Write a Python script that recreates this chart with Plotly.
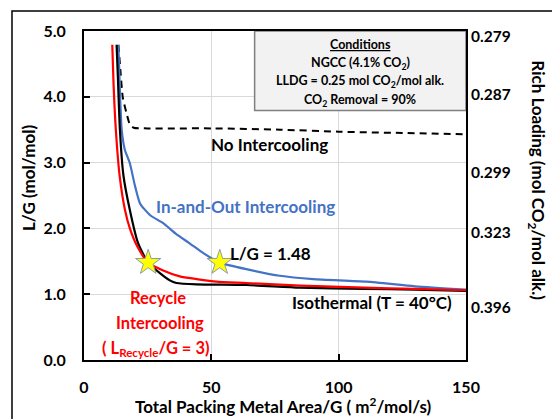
import plotly.graph_objects as go

# ---- data -------------------------------------------------------------
# Isothermal (T = 40 °C)
iso_x = [12.8, 13.3, 14.1, 15.5, 18.0, 21.2, 25.2, 29.8, 33.7, 36.3, 44.2, 63.8, 84.7, 110, 130, 150]
iso_y = [4.79, 4.30, 3.50, 2.80, 2.28, 1.78, 1.48, 1.32, 1.21, 1.17, 1.15, 1.14, 1.10, 1.08, 1.07, 1.05]

# Recycle intercooling (L_Recycle/G = 3)
rec_x = [11.1, 11.6, 12.5, 14.0, 16.1, 18.0, 21.0, 25.2, 31.1, 37.6, 44.2, 52.0, 63.8, 85, 110, 130, 150]
rec_y = [4.79, 4.20, 3.50, 2.80, 2.28, 2.00, 1.72, 1.48, 1.36, 1.27, 1.23, 1.19, 1.17, 1.13, 1.10, 1.08, 1.06]

# In-and-out intercooling
io_x = [13.5, 14.0, 14.8, 16.0, 18.0, 20.0, 22.0, 26.0, 31.1, 36.0, 41.6, 47.0, 53.3, 65.1, 76.9, 90, 110.9, 130, 150]
io_y = [4.79, 4.20, 3.50, 3.20, 2.99, 2.65, 2.38, 2.20, 2.08, 1.92, 1.77, 1.62, 1.48, 1.37, 1.28, 1.23, 1.19, 1.12, 1.07]

# No intercooling
no_x = [13.5, 14.3, 15.2, 16.7, 18.0, 19.5, 25, 50, 77, 100, 125, 150]
no_y = [4.79, 4.40, 4.00, 3.75, 3.58, 3.53, 3.52, 3.52, 3.50, 3.47, 3.45, 3.43]

# Design points
star_x = [25.2, 53.3]
star_y = [1.48, 1.48]

# Axis ticks
lg_ticks = [0, 1, 2, 3, 4, 5]
area_ticks = [0, 50, 100, 150]
rich_pos = [4.92, 4.03, 2.85, 1.93, 0.79]
rich_labels = ["0.279", "0.287", "0.299", "0.323", "0.396"]

FONT = "Lato"
BLUE = "#4472C4"
RED = "#FF0000"

fig = go.Figure()

fig.add_trace(go.Scatter(x=no_x, y=no_y, mode="lines",
                         line=dict(color="black", width=2, dash="7px,5px", shape="spline", smoothing=0.6)))
fig.add_trace(go.Scatter(x=io_x, y=io_y, mode="lines",
                         line=dict(color=BLUE, width=2.2, shape="spline", smoothing=0.6)))
fig.add_trace(go.Scatter(x=iso_x, y=iso_y, mode="lines",
                         line=dict(color="black", width=2.2, shape="spline", smoothing=0.6)))
fig.add_trace(go.Scatter(x=rec_x, y=rec_y, mode="lines",
                         line=dict(color=RED, width=2.2, shape="spline", smoothing=0.6)))
fig.add_trace(go.Scatter(x=star_x, y=star_y, mode="markers",
                         marker=dict(symbol="star", size=19, color="#FFFF00",
                                     line=dict(color="#8a9bb0", width=1))))
# carrier for the right-hand axis
fig.add_trace(go.Scatter(x=[0], y=[0], yaxis="y2", mode="markers",
                         marker=dict(opacity=0), hoverinfo="skip"))

axis_common = dict(showline=True, linecolor="black", linewidth=2, mirror=True,
                   ticks="inside", tickcolor="black", tickwidth=1.5, ticklen=6,
                   showgrid=True, gridcolor="#d9d9d9", gridwidth=1, zeroline=False,
                   tickfont=dict(family=FONT, size=16, color="black"))

fig.update_layout(
    width=552, height=419,
    margin=dict(l=84, r=86, t=31, b=59),
    paper_bgcolor="white", plot_bgcolor="white",
    showlegend=False,
    xaxis=dict(range=[0, 150], tickvals=area_ticks,
               ticktext=[f"<b>{v}</b>" for v in area_ticks],
               ticklabelstandoff=12, **axis_common),
    yaxis=dict(range=[0, 5], tickvals=lg_ticks,
               ticktext=[f"<b>{v:.1f}</b>" for v in lg_ticks],
               ticklabelstandoff=13, **axis_common),
    yaxis2=dict(range=[0, 5], overlaying="y", side="right", showgrid=False,
                zeroline=False, ticks="", tickvals=rich_pos,
                ticktext=[f"<b>{t}</b>" for t in rich_labels],
                ticklabelstandoff=4,
                tickfont=dict(family=FONT, size=15.5, color="black")),
)

# outer frame and conditions box
fig.add_shape(type="rect", xref="paper", yref="paper",
              x0=-0.1885, x1=1.35, y0=-0.3, y1=1.0608,
              line=dict(color="black", width=1.5), fillcolor="rgba(0,0,0,0)")
fig.add_shape(type="rect", xref="x", yref="y", x0=67, x1=150, y0=3.79, y1=5.0,
              line=dict(color="#7f7f7f", width=1.5), fillcolor="#f2f2f2", layer="between")

def note(text, x, y, color="black", size=17, **kw):
    fig.add_annotation(text=text, x=x, y=y, xref=kw.pop("xref", "x"), yref=kw.pop("yref", "y"),
                       xanchor="center", yanchor="middle",
                       showarrow=False, font=dict(family=FONT, size=size, color=color), **kw)

box_lines = ["<b><u>Conditions</u></b>",
             "<b>NGCC (4.1% CO<sub>2</sub>)</b>",
             "<b>LLDG = 0.25 mol CO<sub>2</sub>/mol alk.</b>",
             "<b>CO<sub>2</sub> Removal = 90%</b>"]
for line, yv in zip(box_lines, [4.80, 4.51, 4.23, 3.95]):
    note(line, 108.5, yv, size=12.5)

note("<b>No Intercooling</b>", 72.9, 3.27)
note("<b>In-and-Out Intercooling</b>", 63.5, 2.33, color=BLUE)
note("<b>L/G = 1.48</b>", 73.4, 1.62)
note("<b>Isothermal (T = 40°C)</b>", 112.9, 0.88)
note("<b>Recycle</b>", 29.1, 0.94, color=RED, size=16.5)
note("<b>Intercooling</b>", 29.8, 0.56, color=RED, size=16.5)
note("<b>( L<sub>Recycle</sub>/G = 3)</b>", 28.3, 0.18, color=RED, size=16.5)

# axis titles
note("<b>L/G (mol/mol)</b>", -0.1466, 0.553, xref="paper", yref="paper", size=17, textangle=-90)
note("<b>Rich Loading (mol CO<sub>2</sub>/mol alk.)</b>", 1.185, 0.547,
     xref="paper", yref="paper", size=17, textangle=90)
note("<b>Total Packing Metal Area/G ( m<sup>2</sup>/mol/s)</b>", 0.52, -0.138,
     xref="paper", yref="paper", size=17)

fig.write_html("out.html")
